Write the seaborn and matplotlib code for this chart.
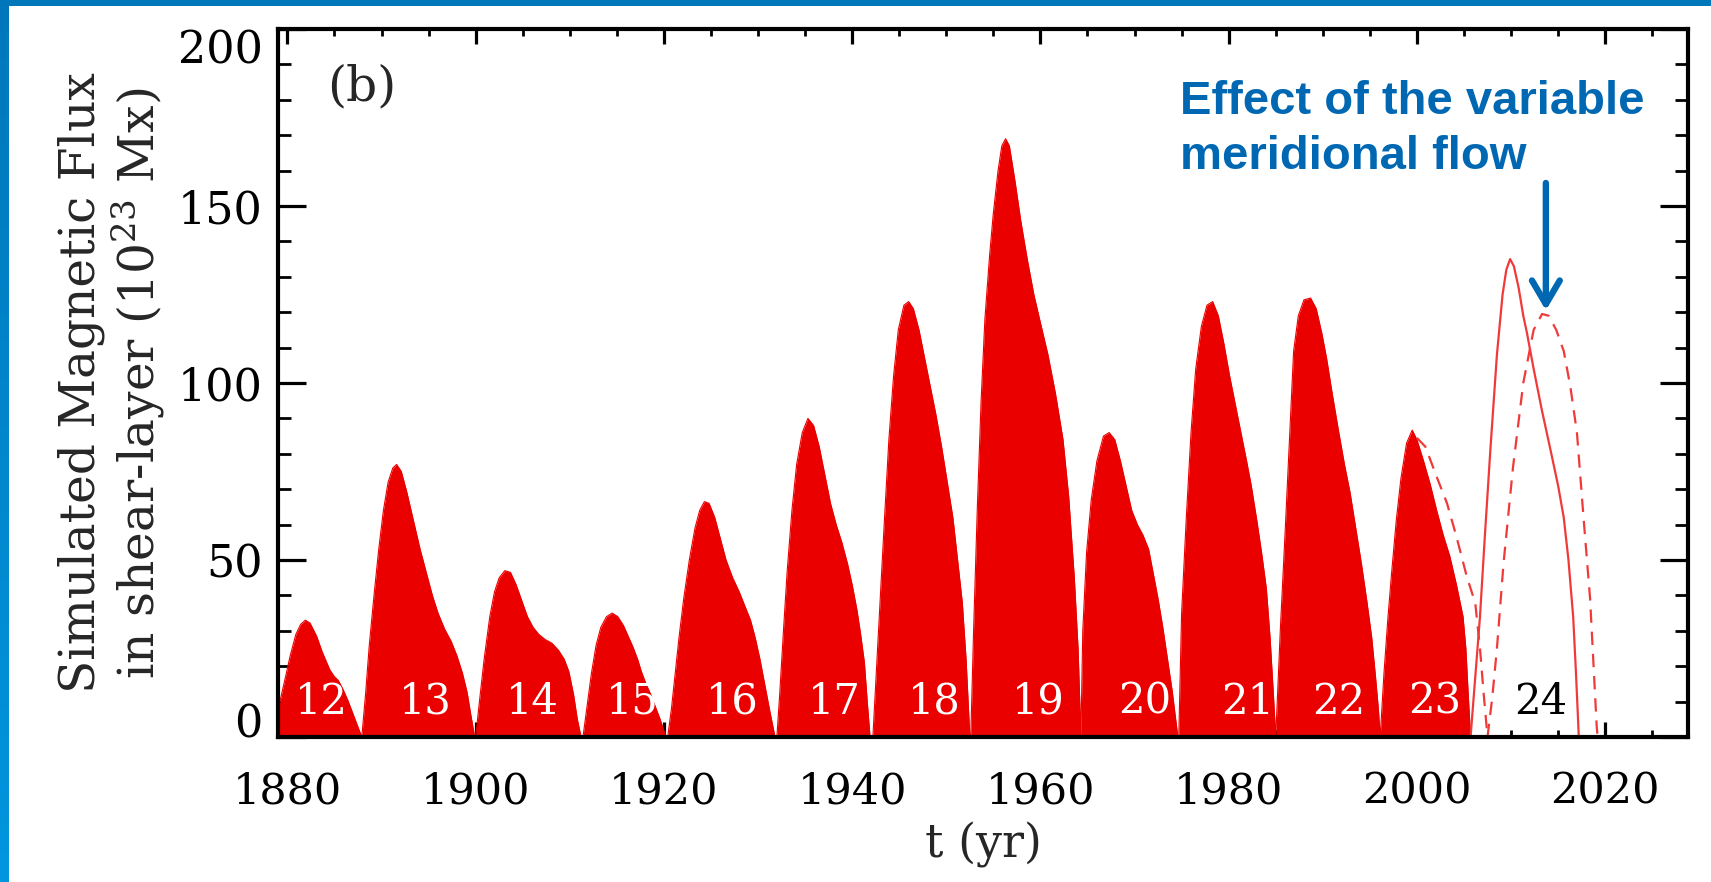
import numpy as np
import matplotlib
matplotlib.use("Agg")
import matplotlib.pyplot as plt
import seaborn as sns
from matplotlib.ticker import FixedLocator, MultipleLocator
from matplotlib.colors import LinearSegmentedColormap

# ---------------- data ----------------
cyc12_t = [1878.6, 1879.2, 1879.8, 1880.3, 1880.9, 1881.4, 1881.9, 1882.4, 1883.1, 1883.7,
           1884.5, 1885.0, 1885.4, 1885.9, 1886.4, 1886.9, 1887.4, 1887.9]
cyc12_v = [2, 10, 17, 23, 29, 31.8, 33, 32.2, 28.5, 24, 19, 17, 16, 13.5, 10.5, 7, 3.5, 0]

cyc13_t = [1887.9, 1888.3, 1888.7, 1889.2, 1889.7, 1890.2, 1890.7, 1891.2, 1891.6, 1892.1,
           1892.7, 1893.4, 1894.1, 1894.8, 1895.4, 1896.0, 1896.7, 1897.4, 1898.0, 1898.6,
           1899.1, 1899.5, 1899.9]
cyc13_v = [0, 12, 26, 40, 53, 64, 72, 76, 77, 75, 69, 61, 53, 46, 40, 35, 30.5, 27, 23, 18,
           12.5, 6, 0]

cyc14_t = [1900.0, 1900.4, 1900.9, 1901.5, 1902.0, 1902.5, 1903.1, 1903.7, 1904.3, 1904.9,
           1905.5, 1906.1, 1906.7, 1907.4, 1908.1, 1908.8, 1909.4, 1909.9, 1910.4, 1910.8, 1911.2]
cyc14_v = [0, 10, 22, 34, 41, 45, 47, 46.5, 43, 38.5, 34, 31, 29, 27.5, 26.5, 24.5, 22, 18.5,
           12, 5, 0]

cyc15_t = [1911.4, 1911.8, 1912.3, 1912.8, 1913.3, 1913.9, 1914.5, 1915.1, 1915.7, 1916.2,
           1916.7, 1917.2, 1917.6, 1918.1, 1918.6, 1919.1, 1919.6, 1920.2]
cyc15_v = [0, 8, 18, 26, 31, 34, 35, 34, 31.5, 28.5, 25.5, 22, 18.5, 15, 12, 8.5, 5, 0]

cyc16_t = [1920.4, 1920.8, 1921.2, 1921.6, 1922.1, 1922.7, 1923.3, 1923.8, 1924.3, 1924.8,
           1925.4, 1926.0, 1926.6, 1927.3, 1928.0, 1928.6, 1929.2, 1929.7, 1930.2, 1930.7,
           1931.2, 1931.8]
cyc16_v = [0, 8, 18, 28, 39, 50, 59, 64, 66.5, 66, 62, 56, 50, 45, 41, 37, 33, 28, 22, 15, 8, 0]

cyc17_t = [1932.0, 1932.3, 1932.7, 1933.1, 1933.6, 1934.1, 1934.7, 1935.3, 1935.9, 1936.5,
           1937.1, 1937.7, 1938.3, 1938.9, 1939.5, 1940.0, 1940.5, 1940.9, 1941.3, 1941.6, 1941.9]
cyc17_v = [0, 12, 30, 47, 64, 77, 86, 90, 88, 82, 74, 66, 60, 55, 49, 43, 36, 29, 21, 10, 0]

cyc18_t = [1942.2, 1942.5, 1942.9, 1943.4, 1943.9, 1944.4, 1944.9, 1945.5, 1946.0, 1946.5,
           1947.1, 1947.7, 1948.3, 1948.9, 1949.5, 1950.1, 1950.7, 1951.2, 1951.7, 1952.1, 1952.5]
cyc18_v = [0, 15, 35, 60, 84, 102, 115, 122, 123, 121, 115, 107, 99, 91, 82, 72, 62, 50, 38,
           22, 0]

cyc19_t = [1952.6, 1952.9, 1953.3, 1953.7, 1954.1, 1954.6, 1955.0, 1955.5, 1955.9, 1956.3,
           1956.7, 1957.3, 1957.9, 1958.6, 1959.3, 1960.0, 1960.8, 1961.6, 1962.4, 1963.0,
           1963.6, 1964.0, 1964.3]
cyc19_v = [0, 30, 65, 95, 118, 136, 148, 160, 167, 169, 167, 157, 146, 135, 125, 117, 108, 97,
           84, 68, 45, 25, 0]

cyc20_t = [1964.3, 1964.5, 1964.9, 1965.4, 1966.0, 1966.7, 1967.3, 1967.9, 1968.5, 1969.1,
           1969.7, 1970.3, 1970.9, 1971.5, 1972.0, 1972.5, 1973.0, 1973.5, 1974.0, 1974.6]
cyc20_v = [0, 30, 52, 67, 78, 85, 86, 84, 78, 71, 64, 60, 57, 53, 46, 39, 31, 22, 13, 0]

cyc21_t = [1974.7, 1975.0, 1975.5, 1976.0, 1976.5, 1977.1, 1977.7, 1978.3, 1978.9, 1979.5,
           1980.1, 1980.7, 1981.3, 1981.9, 1982.4, 1983.0, 1983.5, 1984.0, 1984.4, 1984.75, 1985.0]
cyc21_v = [0, 35, 62, 86, 104, 116, 122, 123, 119, 111, 102, 94, 86, 78, 71, 61, 52, 42, 28,
           12, 0]

cyc22_t = [1985.0, 1985.5, 1986.0, 1986.5, 1986.9, 1987.4, 1988.0, 1988.7, 1989.3, 1989.9,
           1990.4, 1991.0, 1991.7, 1992.3, 1992.9, 1993.5, 1994.1, 1994.7, 1995.2, 1995.6,
           1995.9, 1996.1]
cyc22_v = [0, 31, 58, 86, 109, 119, 123.5, 124, 121, 114, 107, 97, 86, 77, 69, 59, 49, 38, 28,
           17, 8, 0]

cyc23_t = [1996.1, 1996.5, 1996.9, 1997.3, 1997.8, 1998.3, 1998.9, 1999.5, 2000.0, 2000.7,
           2001.4, 2002.1, 2002.8, 2003.5, 2004.2, 2004.9, 2005.2, 2005.45, 2005.7]
cyc23_v = [0, 18, 33, 46, 61, 73, 83, 86.7, 84, 78, 71.5, 64, 57, 51, 43, 34, 25, 12, 0]

# cycle 24 prediction, constant meridional flow (solid)
c24_solid_t = [2005.7, 2006.2, 2006.7, 2007.2, 2007.8, 2008.5, 2009.1, 2009.5, 2009.9, 2010.3,
               2010.8, 2011.3, 2011.7, 2012.4, 2013.3, 2014.2, 2015.0, 2015.6, 2016.1, 2016.6,
               2016.9, 2017.2]
c24_solid_v = [0, 17, 34, 56, 81, 108, 125, 132, 135, 133, 127, 119, 114, 104, 92, 81, 71, 62,
               50, 34, 18, 0]

# variable meridional flow (dashed)
dash23_t = [2000.0, 2000.9, 2002.1, 2003.2, 2004.2, 2005.3, 2006.2, 2006.7, 2007.1, 2007.5]
dash23_v = [84.5, 82, 73.5, 66, 56.6, 45.3, 37.8, 25, 12, 0]

dash24_t = [2007.5, 2008.0, 2008.5, 2009.2, 2010.2, 2011.3, 2012.4, 2013.3, 2014.0, 2014.8,
            2015.6, 2016.3, 2017.0, 2017.7, 2018.4, 2019.1, 2019.2]
dash24_v = [0, 11, 25, 49, 76, 100, 115, 119.5, 119, 115, 109, 99, 86, 62, 39, 3, 0]

cycle_numbers = [12, 13, 14, 15, 16, 17, 18, 19, 20, 21, 22, 23, 24]
cycle_label_x = [1883.6, 1894.7, 1906.0, 1916.7, 1927.3, 1938.1, 1948.7, 1959.8, 1971.1,
                 1982.0, 1991.7, 2001.9, 2013.2]

x_ticks = [1880, 1900, 1920, 1940, 1960, 1980, 2000, 2020]
y_ticks = [0, 50, 100, 150, 200]

annotation_text = "Effect of the variable\nmeridional flow"

# ---------------- style ----------------
sns.set_style("ticks")
plt.rcParams["font.family"] = ["DejaVu Serif"]
plt.rcParams["mathtext.fontset"] = "dejavuserif"

RED = "#eb0000"
LINE_RED = "#f03a3a"
BLUE = "#0068b3"

W, H = 1711, 882
fig = plt.figure(figsize=(W / 100, H / 100), dpi=100)
fig.patch.set_facecolor("white")

# blue frame (top band and left gradient band)
top_band = fig.add_axes([0, 1 - 6 / H, 1, 6 / H])
top_band.set_axis_off()
top_band.add_patch(plt.Rectangle((0, 0), 1, 1, color="#0077bb", transform=top_band.transAxes))
left_band = fig.add_axes([0, 0, 9 / W, 1])
left_band.set_axis_off()
grad = np.linspace(0, 1, 256).reshape(-1, 1)
cmap = LinearSegmentedColormap.from_list("band", ["#0077bb", "#0096de"])
left_band.imshow(grad, aspect="auto", cmap=cmap, extent=[0, 1, 1, 0])

ax = fig.add_axes([278 / W, 1 - 737 / H, 1410 / W, 708 / H])
ax.set_facecolor("white")

t_fill = np.concatenate([cyc12_t, cyc13_t, cyc14_t, cyc15_t, cyc16_t, cyc17_t, cyc18_t,
                         cyc19_t, cyc20_t, cyc21_t, cyc22_t, cyc23_t])
v_fill = np.concatenate([cyc12_v, cyc13_v, cyc14_v, cyc15_v, cyc16_v, cyc17_v, cyc18_v,
                         cyc19_v, cyc20_v, cyc21_v, cyc22_v, cyc23_v])
ax.fill_between(t_fill, v_fill, 0, color=RED, lw=0, zorder=1)
sns.lineplot(x=t_fill, y=v_fill, ax=ax, color=RED, lw=0.8, sort=False, estimator=None, zorder=1)

sns.lineplot(x=c24_solid_t, y=c24_solid_v, ax=ax, color=LINE_RED, lw=1.6, sort=False,
             estimator=None, zorder=2)
sns.lineplot(x=dash23_t, y=dash23_v, ax=ax, color=LINE_RED, lw=1.6, sort=False,
             estimator=None, linestyle=(0, (6, 4)), zorder=2)
sns.lineplot(x=dash24_t, y=dash24_v, ax=ax, color=LINE_RED, lw=1.6, sort=False,
             estimator=None, linestyle=(0, (6, 4)), zorder=2)

for xx, num in zip(cycle_label_x, cycle_numbers):
    ax.text(xx, 6.5, str(num), color="black" if num == 24 else "white",
            ha="center", va="baseline", fontsize=30, zorder=3)

ax.text(0.0596, 0.918, "(b)", transform=ax.transAxes, ha="center", va="center", fontsize=35)

ax.set_xlim(1879.0, 2028.8)
ax.set_ylim(0, 200)
ax.xaxis.set_major_locator(FixedLocator(x_ticks))
ax.xaxis.set_minor_locator(MultipleLocator(5))
ax.yaxis.set_major_locator(FixedLocator(y_ticks))
ax.yaxis.set_minor_locator(MultipleLocator(10))
ax.set_xticklabels([str(v) for v in x_ticks])
ax.set_yticklabels([str(v) for v in y_ticks])

for s in ax.spines.values():
    s.set_visible(True)
    s.set_linewidth(3)
    s.set_color("black")
    s.set_zorder(5)

ax.tick_params(axis="both", which="both", direction="in", top=True, right=True,
               bottom=True, left=True, colors="black", zorder=5)
ax.tick_params(axis="x", which="major", length=10.8, width=2.3, labelsize=31, pad=24)
ax.tick_params(axis="x", which="minor", length=5, width=2.0)
ax.tick_params(axis="y", which="major", length=20, width=2.3, labelsize=32, pad=11)
ax.tick_params(axis="y", which="minor", length=9.4, width=2.0)

ylabs = ax.get_yticklabels()
ylabs[0].set_va("baseline")
ylabs[-1].set_va("top")

ax.set_xlabel("t (yr)", fontsize=33, va="center")
ax.xaxis.set_label_coords(0.5, (737 - 845) / 708)
ax.set_ylabel("Simulated Magnetic Flux\nin shear-layer (10$^{23}$ Mx)", fontsize=35,
              ha="center", va="center", rotation_mode="default", multialignment="center",
              linespacing=1.1)
ax.yaxis.set_label_coords((112 - 278) / 1410, 0.5)

fig.text(1180 / W, 1 - 80 / H, annotation_text, color=BLUE, fontsize=34,
         fontweight="bold", family=["Liberation Sans", "DejaVu Sans"], ha="left", va="top",
         linespacing=1.32)
ax.annotate("", xy=(2013.7, 120.5), xytext=(2013.7, 156.5),
            arrowprops=dict(arrowstyle="->,head_length=0.85,head_width=0.5", color=BLUE,
                            lw=4.6, mutation_scale=20, shrinkA=0, shrinkB=0),
            annotation_clip=False, zorder=6)

fig.savefig("out.png", dpi=100, facecolor="white")
